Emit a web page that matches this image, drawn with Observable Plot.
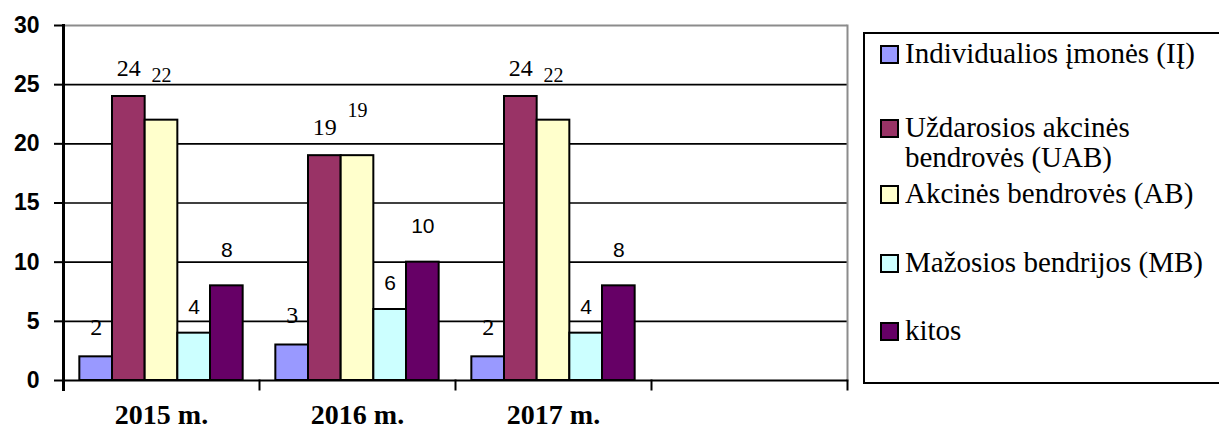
<!DOCTYPE html>
<html>
<head>
<meta charset="utf-8">
<script src="https://cdn.jsdelivr.net/npm/d3@7"></script>
<script src="https://cdn.jsdelivr.net/npm/@observablehq/plot@0.6"></script>
<style>
  html, body { margin: 0; padding: 0; background: #fff; overflow: hidden; }
  #wrap { position: relative; width: 1219px; height: 434px; }
  #chart { position: absolute; left: 0; top: 0; }
  #legend { position: absolute; left: 863px; top: 32px; width: 364px; height: 352px;
            border: 2px solid #000; box-sizing: border-box; background: #fff; }
  .item { position: absolute; left: 15px; display: flex; align-items: flex-start; width: 336px; }
  .sw { width: 15px; height: 15px; border: 2px solid #000; flex: none; margin-top: 7px; margin-right: 6px; }
  .lab { font-family: "Liberation Serif", "Times New Roman", serif; font-size: 29px; line-height: 30px;
         color: #000; width: 312px; }
</style>
</head>
<body>
<div id="wrap">
  <div id="chart"></div>
  <div id="legend"></div>
</div>
<script>
// ---- data ----
const years = ["2015 m.", "2016 m.", "2017 m."];
const seriesNames = [
  "Individualios įmonės (IĮ)",
  "Uždarosios akcinės bendrovės (UAB)",
  "Akcinės bendrovės (AB)",
  "Mažosios bendrijos (MB)",
  "kitos"
];
const valuesII = [2, 3, 2];
const valuesUAB = [24, 19, 24];
const valuesAB = [22, 19, 22];
const valuesMB = [4, 6, 4];
const valuesKitos = [8, 10, 8];
const seriesColors = ["#9999FF", "#993366", "#FFFFCC", "#CCFFFF", "#660066"];
const yTicks = [0, 5, 10, 15, 20, 25, 30];
const emptySlot = " ";

// ---- styles ----
const serif = "Liberation Serif, Times New Roman, serif";
const sans = "Liberation Sans, Arial, sans-serif";
const labelStyles = [
  {fontFamily: serif, fontSize: 24, dy: -30},
  {fontFamily: serif, fontSize: 24, dy: -28},
  {fontFamily: serif, fontSize: 20, dy: -45},
  {fontFamily: sans, fontSize: 21, dy: -26},
  {fontFamily: sans, fontSize: 21, dy: -36}
];
const legendTops = [4, 78, 144, 213, 281];

// ---- table ----
const seriesValues = [valuesII, valuesUAB, valuesAB, valuesMB, valuesKitos];
const rows = years.flatMap((year, i) =>
  seriesValues.map((vals, j) => ({year, series: seriesNames[j], value: vals[i]})));

const W = 850, H = 434, mT = 25, mB = 54, mL = 62, mR = 3;
const plotH = H - mT - mB;

// draw a decoration mark in every facet, the empty one included
const everywhere = (make) => [make({}), make({facetAnchor: "empty"})];

const labelMarks = seriesNames.map((s, j) =>
  Plot.text(rows.filter(r => r.series === s), {
    fx: "year", x: "series", y: "value", text: d => String(d.value),
    dy: labelStyles[j].dy, fontSize: labelStyles[j].fontSize,
    fontFamily: labelStyles[j].fontFamily, fill: "#000"
  }));

const chart = Plot.plot({
  width: W, height: H,
  marginTop: mT, marginBottom: mB, marginLeft: mL, marginRight: mR,
  fx: {domain: [...years, emptySlot], padding: 0, axis: null},
  x: {domain: seriesNames, paddingInner: 0, paddingOuter: 0.5, axis: null, round: false},
  y: {domain: [0, 30], axis: null},
  color: {domain: seriesNames, range: seriesColors},
  style: {background: "#fff", color: "#000", overflow: "visible"},
  marks: [
    ...everywhere(o => Plot.ruleY(yTicks.filter(t => t > 0 && t < 30), {stroke: "#000", strokeWidth: 1.6, ...o})),
    ...everywhere(o => Plot.ruleY([30], {stroke: "#8c8c8c", strokeWidth: 2, ...o})),
    Plot.frame({anchor: "right", facetAnchor: "right", stroke: "#8c8c8c", strokeWidth: 2}),
    Plot.barY(rows, {fx: "year", x: "series", y: "value", fill: "series", stroke: "#000", strokeWidth: 2}),
    ...everywhere(o => Plot.ruleY([0], {stroke: "#000", strokeWidth: 2, ...o})),
    ...everywhere(o => Plot.frame({anchor: "left", insetTop: plotH, insetBottom: -9, stroke: "#000", strokeWidth: 2, ...o})),
    Plot.frame({anchor: "right", facetAnchor: "right", insetTop: plotH, insetBottom: -9, stroke: "#000", strokeWidth: 2}),
    Plot.frame({anchor: "left", facetAnchor: "left", insetBottom: -9, stroke: "#000", strokeWidth: 3}),
    Plot.axisY({ticks: yTicks, tickSize: 9, tickPadding: 15, label: null, tickFormat: d => String(d),
                fontSize: 23, fontWeight: "bold", fontFamily: sans,
                stroke: "#000", strokeWidth: 2, fill: "#000"}),
    ...labelMarks,
    Plot.text(years, {fx: d => d, frameAnchor: "bottom", dy: 43, text: d => d,
                      fontSize: 28, fontWeight: "bold", fontFamily: serif, fill: "#000"})
  ]
});
document.getElementById("chart").appendChild(chart);

// ---- legend ----
const legend = document.getElementById("legend");
seriesNames.forEach((s, j) => {
  const item = document.createElement("div");
  item.className = "item";
  item.style.top = legendTops[j] + "px";
  const sw = document.createElement("div");
  sw.className = "sw";
  sw.style.background = seriesColors[j];
  const lab = document.createElement("div");
  lab.className = "lab";
  lab.textContent = s;
  item.appendChild(sw);
  item.appendChild(lab);
  legend.appendChild(item);
});
</script>
</body>
</html>
